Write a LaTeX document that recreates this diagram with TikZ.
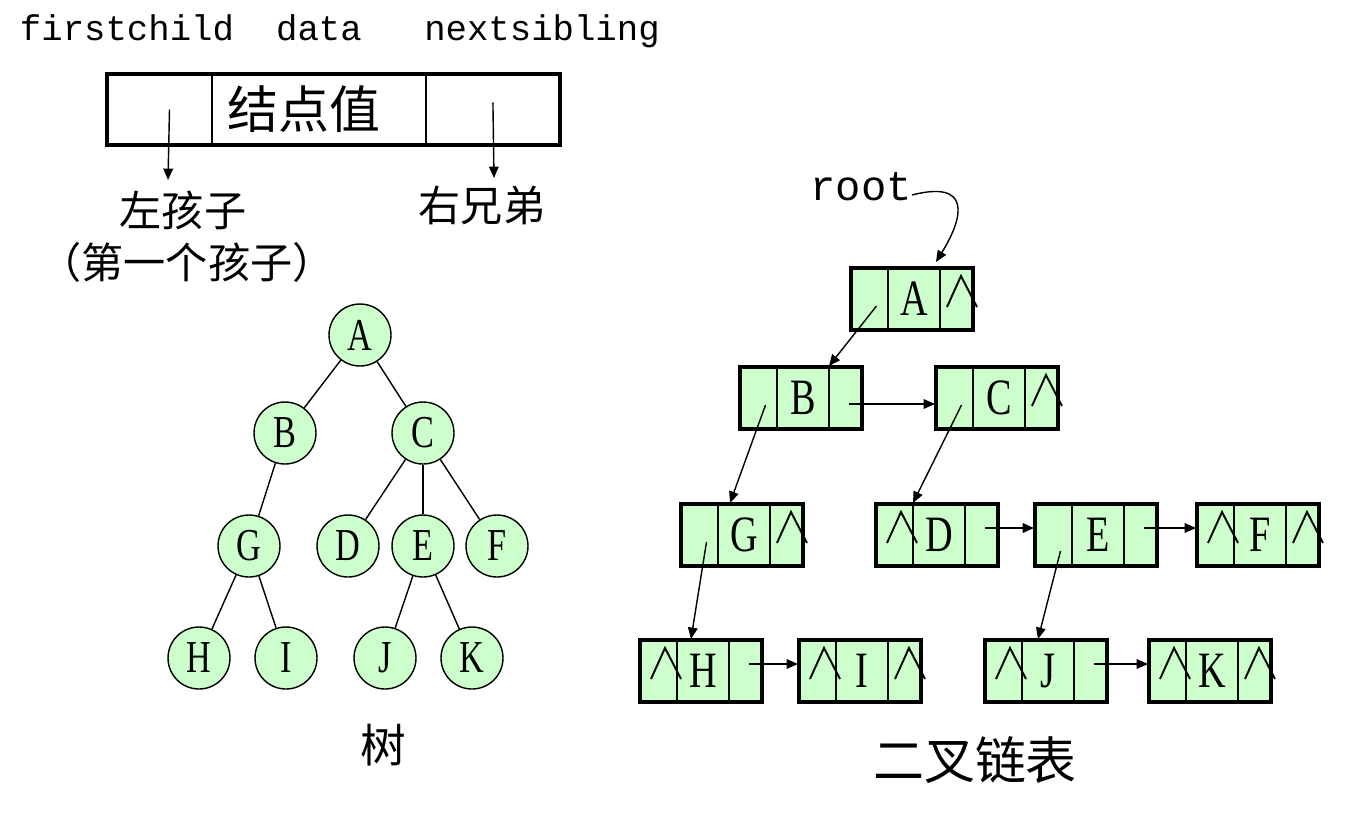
\documentclass[tikz,border=0pt]{standalone}
\usepackage{fontspec}
\setmainfont{Liberation Serif}
\newfontfamily\cjk{Noto Sans CJK SC}
\newfontfamily\monofont{Liberation Mono}
\newfontfamily\letfont[FakeStretch=0.75]{Liberation Serif}
\usepackage{tikz}
\usetikzlibrary{arrows.meta,calc,positioning}
\definecolor{nodegreen}{HTML}{CCFFCC}

\begin{document}
\begin{tikzpicture}[x=0.02cm, y=-0.02cm, >={Triangle[length=6.5pt,width=5.5pt]},
  tnode/.style={circle, draw, line width=0.8pt, fill=nodegreen, minimum size=1.24cm,
    inner sep=0pt, font=\letfont\fontsize{26}{26}\selectfont},
  cell/.style={rectangle, draw, line width=1pt, fill=nodegreen, minimum height=1.24cm,
    inner sep=0pt, outer sep=0pt, anchor=north west, font=\letfont\fontsize{29}{29}\selectfont},
  field/.style={rectangle, draw, line width=1pt, minimum height=1.42cm, inner sep=0pt, outer sep=0pt},
  boxframe/.style={line width=2.6pt},
  ptr/.style={->, line width=0.8pt},
  tedge/.style={line width=0.8pt},
  nil/.style={line width=1.1pt},
  mono/.style={font=\monofont\fontsize{20.3}{20}\selectfont, inner sep=0pt}]
\useasboundingbox (0,0) rectangle (1369,819);
% field names
\node[mono, anchor=base] (lfc) at (127,40) {firstchild};
\node[mono, anchor=base] (ldv) at (319,40) {data};
\node[mono, anchor=base] (lns) at (542,40) {nextsibling};
% node layout
\node[field, anchor=north west, minimum width=2.1cm] (fc) at (107,74) {};
\node[field, minimum width=4.28cm, right=0pt of fc, font=\cjk\fontsize{29}{29}\selectfont] (dv) {结点值\hspace*{0.6cm}};
\node[field, minimum width=2.68cm, right=0pt of dv] (ns) {};
\draw[boxframe] (fc.north west) rectangle (ns.south east);
\node[font=\cjk\fontsize{24}{24}\selectfont] (lc) at (183,210) {左孩子};
\node[font=\cjk\fontsize{24}{24}\selectfont] (lc2) at (187,262) {（第一个孩子）};
\node[font=\cjk\fontsize{24}{24}\selectfont] (rs) at (482,205) {右兄弟};
\coordinate (fcend) at (168,180);
\coordinate (nsend) at (494,178);
\draw[ptr] ($(fc.center)+(10,0)$) -- (fcend);
\draw[ptr] ($(ns.center)+(0,-7)$) -- (nsend);
% tree
\foreach \n/\x/\y in {A/360/335, B/285/433, C/423/433, G/249/546, D/348/546, E/423/546,
  F/497/546, H/199/658, I/286/658, J/385/658, K/472/658}
  {\node[tnode] (t\n) at (\x,\y) {\n};}
\foreach \a/\b in {A/B, A/C, B/G, C/D, C/E, C/F, G/H, G/I, E/J, E/K}
  {\draw[tedge] (t\a) -- (t\b);}
\node[font=\cjk\fontsize{26}{26}\selectfont] (treecap) at (383,745) {树};
% binary linked list
\foreach \n/\x/\y in {A/851/268, B/740/367, C/936/367, G/681/504, D/876/504, E/1035/504,
  F/1197/504, H/640/640, I/799/640, J/985/640, K/1149/640}
  {\node[cell, minimum width=0.74cm] (\n-l) at (\x,\y) {};
   \node[cell, minimum width=1.04cm, right=0pt of \n-l] (\n-d) {\n};
   \node[cell, minimum width=0.66cm, right=0pt of \n-d] (\n-r) {};
   \draw[boxframe] (\n-l.north west) rectangle (\n-r.south east);}
\foreach \c in {A-r, C-r, G-r, D-l, F-l, F-r, H-l, I-l, I-r, J-l, K-l, K-r}
  {\draw[nil] ($(\c.south east)+(-26,-23)$) -- ($(\c.north east)+(-12,8)$)
     -- ($(\c.south east)+(4,-23)$);}
\draw[ptr] ($(A-l.center)+(7,7)$) -- ($(B-d.north east)+(0,-1)$); % firstchild
\draw[ptr] ($(B-l.center)+(7,7)$) -- ($(G-d.north west)+(12,-1)$);
\draw[ptr] ($(C-l.center)+(7,7)$) -- ($(D-d.north west)+(0,-1)$);
\draw[ptr] ($(G-l.center)+(7,7)$) -- ($(H-d.north west)+(14,-1)$);
\draw[ptr] ($(E-l.center)+(7,16)$) -- ($(J-d.north west)+(16,-1)$);
\foreach \a/\b/\dy in {B/C/6, D/E/-7, E/F/-7, H/I/-7, J/K/-7} % nextsibling
  {\draw[ptr] ($(\a-r.center)+(4,\dy)$) -- ($(\b-l.west)+(-1,\dy)$);}
\node[font=\monofont\fontsize{24}{24}\selectfont, inner sep=0pt] (root) at (861,187) {root};
\draw[ptr] ($(root.east)+(0,8)$) .. controls (970,180) and (965,215) .. ($(A-d.north east)+(-4,-6)$);
\node[font=\cjk\fontsize{29}{29}\selectfont] (listcap) at (975,760) {二叉链表};
\end{tikzpicture}
\end{document}
